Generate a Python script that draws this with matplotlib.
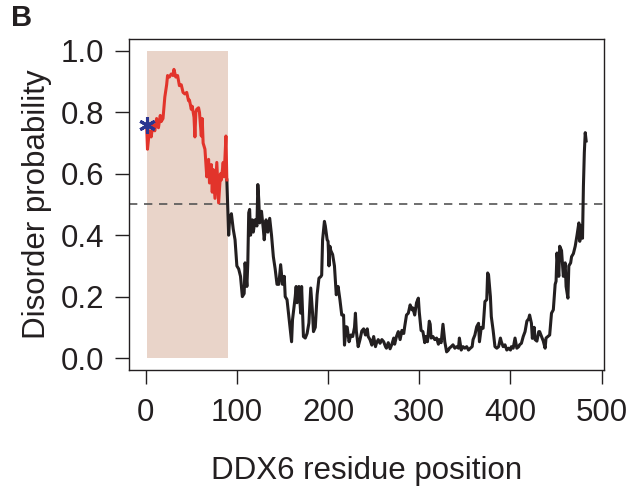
import matplotlib
matplotlib.use("Agg")
import matplotlib.pyplot as plt

plt.rcParams['font.family'] = ['Liberation Sans', 'DejaVu Sans']

# Disordered N-terminal region (red) residues and probabilities
red_res = [1, 2, 4, 6, 8, 10, 12, 14, 16, 17, 19, 21, 23, 24, 26, 28, 30, 31, 33, 35,
           37, 39, 41, 43, 45, 47, 48, 50, 51, 53, 54, 55, 56, 58, 59, 61, 62, 63, 65, 67,
           69, 70, 72, 73, 74, 76, 78, 80, 82, 83, 85, 86, 88, 89]
red_val = [0.76, 0.68, 0.74, 0.72, 0.76, 0.74, 0.78, 0.75, 0.79, 0.77, 0.78, 0.85, 0.89, 0.92,
           0.915, 0.925, 0.92, 0.94, 0.915, 0.92, 0.887, 0.89, 0.865, 0.86, 0.865, 0.838, 0.84,
           0.81, 0.82, 0.784, 0.72, 0.80, 0.81, 0.815, 0.80, 0.723, 0.78, 0.70, 0.68, 0.59,
           0.647, 0.57, 0.63, 0.54, 0.614, 0.52, 0.637, 0.505, 0.60, 0.58, 0.637, 0.59, 0.723, 0.58]

# Remaining residues (black)
blk_res = [89, 91, 92, 94, 96, 98, 100, 102, 104, 106, 108, 109, 111, 112, 113, 114, 115, 117,
           118, 120, 122, 123, 124, 125, 127, 129, 130, 132, 134, 136, 138, 140, 142, 144, 146,
           148, 150, 152, 153, 155, 157, 159, 160, 161, 164, 165, 166, 168, 170, 171, 173, 175,
           177, 179, 181, 183, 184, 186, 188, 190, 192, 193, 194, 196, 197, 199, 200, 201, 202,
           203, 205, 207, 208, 209, 211, 213, 215, 217, 218, 220, 221, 223, 225, 227, 229, 230,
           231, 233, 235, 237, 239, 241, 243, 244, 246, 248, 250, 252, 253, 255, 257, 259, 261,
           263, 264, 266, 268, 270, 272, 273, 275, 277, 279, 281, 283, 284, 286, 288, 290, 292,
           293, 295, 297, 299, 300, 302, 304, 306, 307, 309, 311, 312, 313, 315, 317, 319, 321,
           322, 324, 326, 328, 330, 332, 333, 335, 337, 339, 341, 343, 344, 346, 348, 350, 352,
           354, 356, 358, 359, 361, 363, 365, 366, 368, 370, 372, 374, 375, 376, 378, 379, 381,
           383, 385, 387, 389, 390, 392, 394, 396, 398, 400, 401, 403, 405, 407, 409, 410, 412,
           414, 416, 418, 420, 421, 423, 424, 426, 427, 429, 431, 432, 434, 436, 438, 439, 441,
           443, 445, 447, 449, 450, 451, 453, 454, 456, 458, 460, 461, 463, 464, 466, 467, 469,
           471, 473, 475, 476, 477, 479, 480, 481, 482, 483]
blk_val = [0.58, 0.40, 0.45, 0.47, 0.42, 0.385, 0.30, 0.29, 0.266, 0.20, 0.21, 0.31, 0.233, 0.31,
           0.473, 0.484, 0.40, 0.45, 0.41, 0.45, 0.43, 0.565, 0.516, 0.44, 0.478, 0.42, 0.385,
           0.45, 0.41, 0.455, 0.40, 0.33, 0.29, 0.24, 0.24, 0.304, 0.24, 0.266, 0.20, 0.19, 0.135,
           0.08, 0.053, 0.124, 0.20, 0.233, 0.18, 0.233, 0.146, 0.233, 0.07, 0.065, 0.08, 0.114,
           0.228, 0.146, 0.086, 0.10, 0.206, 0.26, 0.265, 0.27, 0.385, 0.445, 0.43, 0.385, 0.38,
           0.30, 0.364, 0.35, 0.337, 0.30, 0.255, 0.206, 0.233, 0.19, 0.14, 0.14, 0.042, 0.102,
           0.10, 0.053, 0.075, 0.07, 0.10, 0.146, 0.088, 0.037, 0.06, 0.088, 0.095, 0.075, 0.095,
           0.07, 0.06, 0.042, 0.07, 0.037, 0.048, 0.06, 0.048, 0.06, 0.053, 0.037, 0.032, 0.05,
           0.03, 0.045, 0.065, 0.045, 0.07, 0.086, 0.06, 0.09, 0.08, 0.102, 0.14, 0.146, 0.173,
           0.157, 0.163, 0.14, 0.18, 0.195, 0.15, 0.09, 0.086, 0.05, 0.07, 0.053, 0.12, 0.11,
           0.065, 0.07, 0.06, 0.065, 0.045, 0.06, 0.05, 0.11, 0.053, 0.02, 0.026, 0.032, 0.037,
           0.043, 0.032, 0.037, 0.032, 0.065, 0.026, 0.037, 0.032, 0.037, 0.026, 0.032, 0.037,
           0.06, 0.075, 0.102, 0.113, 0.053, 0.10, 0.097, 0.184, 0.19, 0.277, 0.27, 0.20, 0.135,
           0.09, 0.037, 0.032, 0.037, 0.065, 0.053, 0.037, 0.043, 0.026, 0.032, 0.026, 0.037,
           0.032, 0.065, 0.032, 0.037, 0.043, 0.048, 0.07, 0.086, 0.12, 0.128, 0.14, 0.113, 0.064,
           0.10, 0.06, 0.055, 0.086, 0.086, 0.07, 0.055, 0.032, 0.065, 0.07, 0.075, 0.146, 0.157,
           0.24, 0.25, 0.342, 0.266, 0.364, 0.35, 0.266, 0.31, 0.233, 0.195, 0.30, 0.31, 0.33,
           0.34, 0.364, 0.40, 0.44, 0.38, 0.43, 0.39, 0.56, 0.669, 0.734, 0.707]

region_start, region_end = 1, 90
star_res, star_val = 1, 0.76
threshold = 0.5
xticks = [0, 100, 200, 300, 400, 500]
yticks = [0.0, 0.2, 0.4, 0.6, 0.8, 1.0]
ytick_labels = ["0.0", "0.2", "0.4", "0.6", "0.8", "1.0"]

fig = plt.figure(figsize=(6.36, 4.94), dpi=100)
ax = fig.add_axes([0.2028, 0.2504, 0.7465, 0.6713])

ax.axvspan(region_start, region_end, ymin=(0 + 0.04) / 1.08, ymax=(1 + 0.04) / 1.08,
           color='#e9d4c9', lw=0, zorder=1)
ax.axhline(threshold, color='#555555', lw=1.2, ls=(0, (5, 4)), zorder=2)
ax.plot(blk_res, blk_val, color='#231f20', lw=2.2, zorder=3, solid_joinstyle='round')
ax.plot(red_res, red_val, color='#e2342b', lw=2.2, zorder=4, solid_joinstyle='round')
ax.plot([star_res], [star_val], marker=(6, 2, 0), color='#2b3590', markersize=12,
        mew=2.2, zorder=5, ls='none')

ax.set_xlim(-18.3, 502.3)
ax.set_ylim(-0.04, 1.04)
ax.set_xticks(xticks)
ax.set_yticks(yticks)
ax.set_yticklabels(ytick_labels)
ax.tick_params(axis='both', direction='out', length=10, width=1.0, color='#231f20',
               labelsize=22.5, labelcolor='#231f20')
ax.tick_params(axis='x', pad=10)
ax.tick_params(axis='y', pad=8)
for s in ax.spines.values():
    s.set_linewidth(1.0)
    s.set_color('#231f20')

ax.set_xlabel('DDX6 residue position', fontsize=22.5, color='#231f20', labelpad=20)
ax.set_ylabel('Disorder probability', fontsize=22.5, color='#231f20', labelpad=6)

fig.text(0.018, 0.963, 'B', fontsize=21, fontweight='bold', color='#231f20',
         ha='left', va='center')

fig.savefig('out.png', dpi=100)
